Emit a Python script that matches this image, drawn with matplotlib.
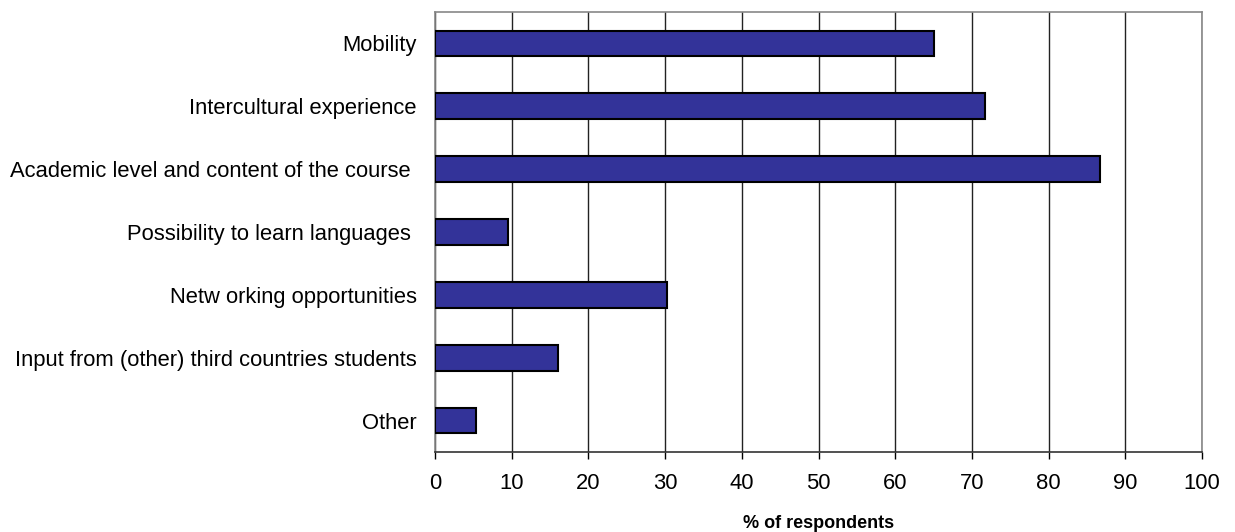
import matplotlib
matplotlib.use("Agg")
import matplotlib.pyplot as plt

categories = [
    "Mobility",
    "Intercultural experience",
    "Academic level and content of the course ",
    "Possibility to learn languages ",
    "Netw orking opportunities",
    "Input from (other) third countries students",
    "Other",
]
values = [65.1, 71.7, 86.7, 9.5, 30.3, 16.0, 5.3]
x_ticks = [0, 10, 20, 30, 40, 50, 60, 70, 80, 90, 100]

plt.rcParams["font.family"] = ["Liberation Sans", "DejaVu Sans"]

W, H = 1235, 532
fig = plt.figure(figsize=(W / 100, H / 100), dpi=100)
ax = fig.add_axes([435 / W, 1 - 452 / H, (1202 - 435) / W, 440 / H])

pos = list(range(len(categories)))
ax.barh(pos, values, height=0.41, color="#333399", edgecolor="black",
        linewidth=1.5, zorder=3)

ax.set_xlim(0, 100)
ax.set_ylim(len(categories) - 0.5, -0.5)
ax.set_xticks(x_ticks)
ax.set_xticklabels([str(t) for t in x_ticks], fontsize=15.8)
ax.set_yticks(pos)
ax.set_yticklabels(categories, fontsize=15.8)
ax.tick_params(axis="y", length=0, pad=13)
ax.tick_params(axis="x", length=5, width=1, color="black", direction="out", pad=10)

ax.grid(axis="x", color="#222222", linewidth=1.0, zorder=0)
ax.set_axisbelow(True)

for side in ("left", "top", "right"):
    ax.spines[side].set_color("#888888")
    ax.spines[side].set_linewidth(1.2)
ax.spines["bottom"].set_color("#333333")
ax.spines["bottom"].set_linewidth(1.2)

ax.set_xlabel("% of respondents", fontsize=13, fontweight="bold", labelpad=15)

fig.savefig("out.png", dpi=100)
